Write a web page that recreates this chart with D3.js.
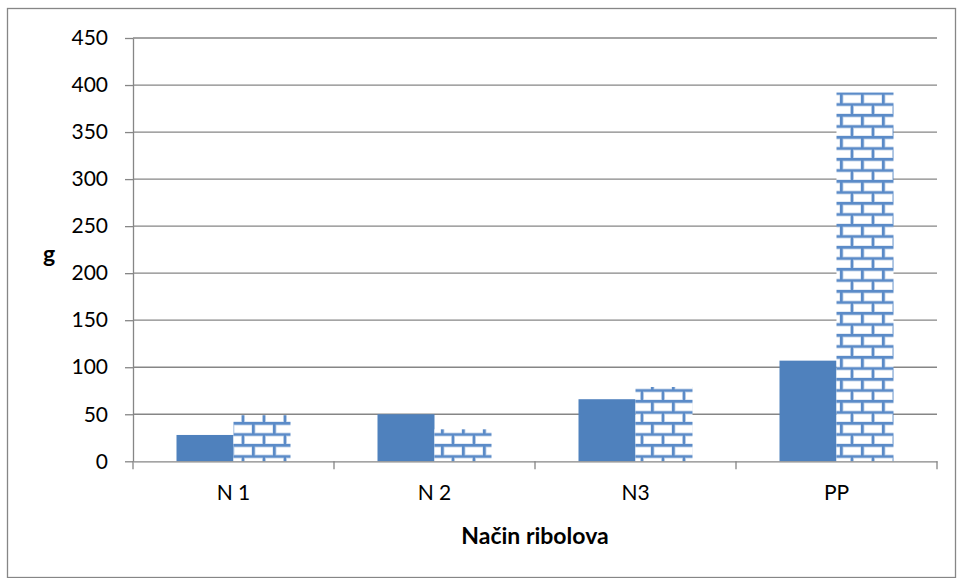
<!DOCTYPE html>
<html>
<head>
<meta charset="utf-8">
<script src="https://cdn.jsdelivr.net/npm/d3@7"></script>
<style>
html,body{margin:0;padding:0;background:#fff;}
svg{display:block;font-family:Lato,"Open Sans",sans-serif;}
</style>
</head>
<body>
<svg id="chart" width="957" height="578"></svg>
<script>
const categories = ["N 1", "N 2", "N3", "PP"];
const seriesSolid = [28, 50, 66, 107];
const seriesBrick = [49, 34, 79, 392];
const yTicks = [0, 50, 100, 150, 200, 250, 300, 350, 400, 450];
const yTitle = "g";
const xTitle = "Način ribolova";

(function () {
const svg = d3.select("#chart");
const W = 957, H = 578;
const pLeft = 133, pRight = 937, pTop = 38, pBottom = 461.3;
const FS = 21, TFS = 23;

svg.append("rect").attr("x", 7.5).attr("y", 8.5).attr("width", W - 9).attr("height", H - 9)
  .attr("fill", "#fff").attr("stroke", "#868686").attr("stroke-width", 1.3);

const defs = svg.append("defs");
const pat = defs.append("pattern").attr("id", "brick").attr("patternUnits", "userSpaceOnUse")
  .attr("width", 21).attr("height", 22).attr("x", 0).attr("y", 4);
pat.append("rect").attr("width", 21).attr("height", 22).attr("fill", "#5B8BC8");
const bw = 18, bh = 8;
[[3,3],[-7.5,14],[13.5,14]].forEach(([x,y]) => {
  pat.append("rect").attr("x", x).attr("y", y).attr("width", bw).attr("height", bh)
    .attr("fill", "#fff").attr("stroke", "#B9CDE6").attr("stroke-width", 0.8);
});

const x = d3.scaleBand().domain(categories).range([pLeft, pRight]).paddingInner(0).paddingOuter(0);
const y = d3.scaleLinear().domain([0, 450]).range([pBottom, pTop]);

svg.append("g").selectAll("line").data(yTicks.filter(d => d > 0)).join("line")
  .attr("x1", pLeft).attr("x2", pRight)
  .attr("y1", d => y(d)).attr("y2", d => y(d))
  .attr("stroke", "#868686").attr("stroke-width", 1.3);

const groupW = 114;
const xs = d3.scaleBand().domain([0, 1]).range([0, groupW]);
const g = svg.append("g");
categories.forEach((c, i) => {
  const gx = x(c) + x.bandwidth() / 2 - groupW / 2;
  g.append("rect").attr("x", gx + xs(0)).attr("y", y(seriesSolid[i]))
    .attr("width", xs.bandwidth()).attr("height", pBottom - y(seriesSolid[i])).attr("fill", "#4F81BD");
  g.append("rect").attr("x", gx + xs(1)).attr("y", y(seriesBrick[i]))
    .attr("width", xs.bandwidth()).attr("height", pBottom - y(seriesBrick[i])).attr("fill", "url(#brick)");
});

const yAxis = d3.axisLeft(y).tickValues(yTicks).tickSize(8).tickSizeOuter(0).tickPadding(17);
const ya = svg.append("g").attr("transform", `translate(${pLeft},0)`).call(yAxis);
ya.select(".domain").attr("stroke", "#868686").attr("stroke-width", 1.3);
ya.selectAll(".tick line").attr("stroke", "#868686").attr("stroke-width", 1.3);
ya.selectAll(".tick text").attr("font-size", FS).attr("fill", "#000").attr("font-family", "Lato, sans-serif");

const xAxis = d3.axisBottom(x).tickSize(0).tickPadding(24);
const xa = svg.append("g").attr("transform", `translate(0,${pBottom})`).call(xAxis);
xa.select(".domain").attr("stroke", "#868686").attr("stroke-width", 1.3);
xa.selectAll(".tick text").attr("font-size", FS).attr("fill", "#000").attr("font-family", "Lato, sans-serif");
const bounds = categories.map(c => x(c)).concat([pRight]);
svg.append("g").selectAll("line").data(bounds).join("line")
  .attr("x1", d => d).attr("x2", d => d).attr("y1", pBottom).attr("y2", pBottom + 8)
  .attr("stroke", "#868686").attr("stroke-width", 1.3);

svg.append("text").attr("x", 49).attr("y", 262).attr("text-anchor", "middle")
  .attr("font-size", TFS).attr("font-weight", "bold").text(yTitle);
svg.append("text").attr("x", 535).attr("y", 544).attr("text-anchor", "middle")
  .attr("font-size", TFS).attr("font-weight", "bold").text(xTitle);
})();
</script>
</body>
</html>
